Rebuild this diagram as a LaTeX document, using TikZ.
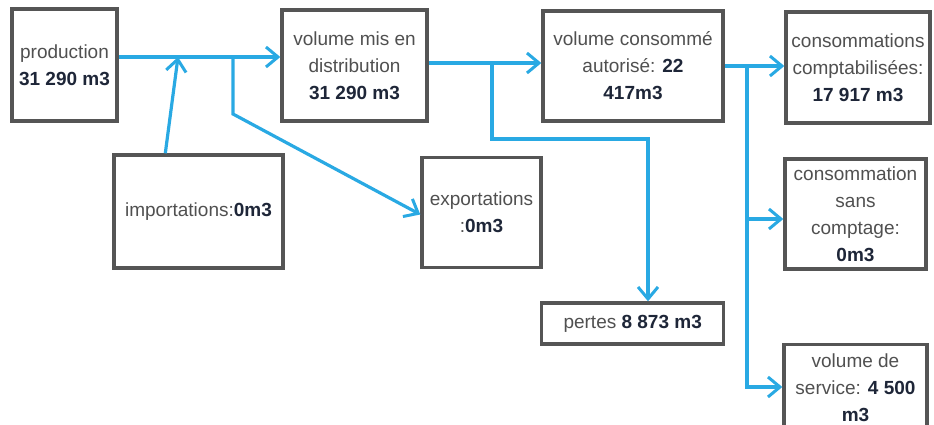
\documentclass[tikz,border=0pt]{standalone}
\usepackage{fontspec}
\setmainfont{Liberation Sans}
\usetikzlibrary{arrows.meta}
\definecolor{flowblue}{HTML}{29A9E3}
\definecolor{boxgray}{HTML}{555555}
\definecolor{txtgray}{HTML}{505050}
\definecolor{numnavy}{HTML}{1E2638}
\newcommand{\nb}[1]{\textbf{\color{numnavy}#1}}
\begin{document}
\begin{tikzpicture}[x=1pt,y=-1pt,
  box/.style={draw=boxgray, line width=3.4pt, fill=white, inner sep=1pt,
    align=center, text=txtgray, font=\fontsize{19}{27}\selectfont},
  flow/.style={draw=flowblue, line width=3.2pt, line join=miter,
    -{Straight Barb[length=12pt,width=20pt,line width=3pt]}},
  flowline/.style={draw=flowblue, line width=3.2pt}]
\useasboundingbox (0,0) rectangle (934,425);
% boxes
\node[box, minimum width=105pt, minimum height=112pt] (prod) at (64.5,65) {production\\\nb{31 290 m3}};
\node[box, minimum width=145pt, minimum height=111pt] (mis) at (354.5,65.5) {volume mis en\\distribution\\\nb{31 290 m3}};
\node[box, minimum width=169pt, minimum height=113pt] (imp) at (198.5,211.5) {importations:\nb{0m3}};
\node[box, minimum width=119pt, minimum height=110pt] (exp) at (481.5,212.5) {exportations\\:\nb{0m3}};
\node[box, minimum width=180pt, minimum height=110pt] (cons) at (633,66) {volume consommé\\autorisé: \nb{22}\\\nb{417m3}};
\node[box, minimum width=144pt, minimum height=111pt] (compta) at (858,67.5) {consommations\\comptabilisées:\\\nb{17 917 m3}};
\node[box, minimum width=141pt, minimum height=110pt] (sans) at (855.5,214) {consommation\\sans\\comptage:\\\nb{0m3}};
\node[box, minimum width=182pt, minimum height=41pt, align=left, anchor=west, inner sep=5pt] (pertes) at (540,323.5) {pertes \nb{8 873 m3}};
\node[box, minimum width=143pt, minimum height=112pt, anchor=north] (serv) at (855.5,343) {volume de\\service: \nb{4 500}\\\nb{m3}\\\mbox{}};
% junction coordinates
\coordinate (ja) at (178,57);
\coordinate (jb) at (233,57);
\coordinate (jc) at (233,114);
\coordinate (jd) at (492,63);
\coordinate (je) at (492,139);
\coordinate (jf) at (648,139);
\coordinate (jg) at (747,66);
\coordinate (jh) at (747,387);
% connectors
\draw[flow] (prod.east |- ja) -- (mis.west |- ja);
\draw[flow] ([xshift=53pt]imp.north west) -- (ja);
\draw[flow] (jb) -- (jc) -- ([yshift=-2pt]exp.west);
\draw[flow] (mis.east |- jd) -- (cons.west |- jd);
\draw[flow] (jd) -- (je) -- (jf) -- (pertes.north -| jf);
\draw[flow] (cons.east |- jg) -- (compta.west |- jg);
\draw[flowline] (jg) -- (jh);
\draw[flow] ([yshift=-5pt]jg |- sans.west) -- ([yshift=-5pt]sans.west);
\draw[flow] ([xshift=-1.6pt]jh) -- (serv.west |- jh);
\end{tikzpicture}
\end{document}
